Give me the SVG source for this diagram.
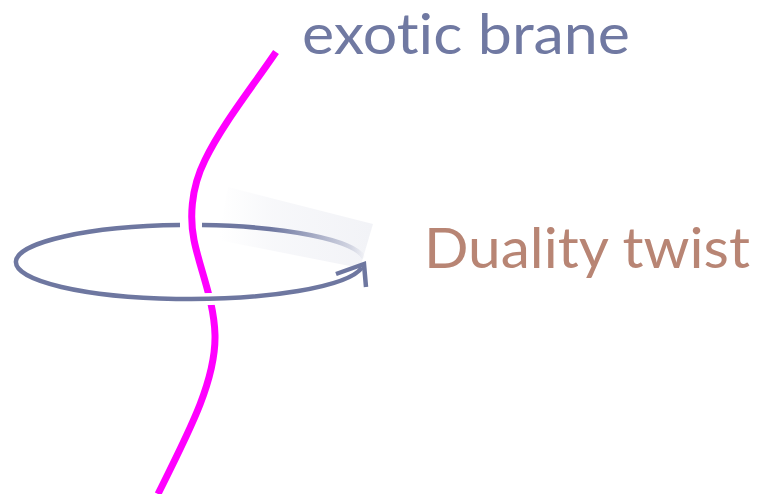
<svg xmlns="http://www.w3.org/2000/svg" width="758" height="494" viewBox="0 0 758 494">
<style>
.ring{fill:none;stroke:#6e77a0;stroke-width:4.5}
.brane{fill:none;stroke:#ff00ff;stroke-width:7}
.lbl{font-family:Lato,"Open Sans",sans-serif;font-size:56px;font-variant-ligatures:none}
</style>
<defs>
<linearGradient id="fade" gradientUnits="userSpaceOnUse" x1="365" y1="0" x2="270" y2="0">
<stop offset="0" stop-color="#6e77a0" stop-opacity="0"/>
<stop offset="0.15" stop-color="#6e77a0" stop-opacity="0.25"/>
<stop offset="1" stop-color="#6e77a0" stop-opacity="1"/>
</linearGradient>
<linearGradient id="blur" gradientUnits="userSpaceOnUse" x1="220" y1="0" x2="372" y2="0">
<stop offset="0" stop-color="#f2f3f7" stop-opacity="0"/>
<stop offset="0.35" stop-color="#f2f3f7" stop-opacity="0.6"/>
<stop offset="1" stop-color="#f2f3f7" stop-opacity="1"/>
</linearGradient>
</defs>
<g id="twist-blur">
<polygon points="228,187 373,224 360,268 218,240" fill="url(#blur)"/>
</g>
<g id="connectors">
<path id="ring-top-right" d="M364,258 A174,37 0 0 0 202,225.1" fill="none" stroke="url(#fade)" stroke-width="4.5"/>
</g>
<g id="exotic-brane">
<path class="brane" d="M276,52 C250,90 222,125 205,160 C190,190 190,220 194,240 C200,270 214,300 215,335 C216,380 190,430 158,494"/>
<path d="M196,299.2 A174,37 0 0 0 226,298.5" fill="none" stroke="#ffffff" stroke-width="12"/>
</g>
<g id="duality-ring">
<path class="ring" d="M180,225.1 A174,37 0 1 0 362,267.5"/>
<polyline class="ring" points="336,274 364,264 366,287" stroke-linejoin="miter" stroke-linecap="butt"/>
</g>
<g id="label-brane">
<text class="lbl" x="302" y="54" fill="#7079a2" textLength="328" lengthAdjust="spacingAndGlyphs">exotic brane</text>
</g>
<g id="label-twist">
<text class="lbl" x="424" y="268" fill="#b88574" textLength="326" lengthAdjust="spacingAndGlyphs">Duality twist</text>
</g>
</svg>
